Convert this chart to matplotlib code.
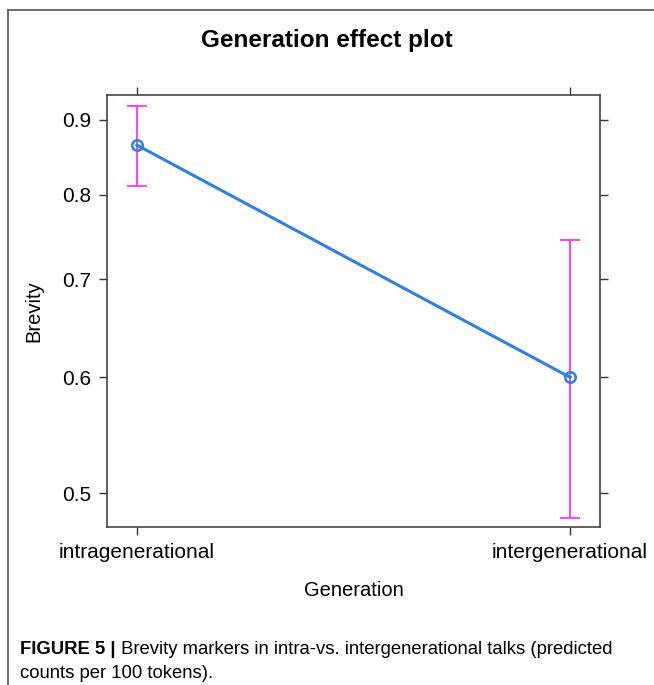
import matplotlib
matplotlib.use("Agg")
import matplotlib.pyplot as plt
from matplotlib.lines import Line2D
from matplotlib.ticker import FixedLocator, FixedFormatter, NullLocator

categories = ["intragenerational", "intergenerational"]
fit = [0.865, 0.600]
lower = [0.811, 0.481]
upper = [0.920, 0.745]
yticks = [0.5, 0.6, 0.7, 0.8, 0.9]
ytick_labels = ["0.5", "0.6", "0.7", "0.8", "0.9"]

plt.rcParams['font.family'] = ['Liberation Sans', 'DejaVu Sans']

fig = plt.figure(figsize=(6.54, 6.85), dpi=100)
W, H = 654, 685
ax = fig.add_axes([107 / W, 1 - 527 / H, (600 - 107) / W, (527 - 95) / H])

x = list(range(1, len(categories) + 1))
yerr = [[f - l for f, l in zip(fit, lower)], [u - f for f, u in zip(fit, upper)]]
ax.errorbar(x, fit, yerr=yerr, fmt='none', ecolor='#ff33ff', elinewidth=1.3,
            capsize=7.5, capthick=1.3, zorder=2)
ax.plot(x, fit, color='#2f7fe8', lw=2.2, marker='o', markersize=7.5,
        markerfacecolor='none', markeredgecolor='#2f7fe8', markeredgewidth=1.8, zorder=3)

ax.set_yscale('log')
ax.set_ylim(0.474, 0.936)
ax.set_xlim(0.931, 2.069)
ax.yaxis.set_major_locator(FixedLocator(yticks))
ax.yaxis.set_major_formatter(FixedFormatter(ytick_labels))
ax.yaxis.set_minor_locator(NullLocator())
ax.set_xticks(x)
ax.set_xticklabels(categories)

ax.tick_params(axis='both', which='major', direction='out', length=5.5, width=1.0,
               color='#333333', labelsize=15, top=True, right=True)
ax.tick_params(axis='y', pad=6)
ax.tick_params(axis='x', pad=6)
for s in ax.spines.values():
    s.set_color('#444444')
    s.set_linewidth(1.2)

ax.set_ylabel('Brevity', fontsize=14.5, labelpad=13)
ax.set_xlabel('Generation', fontsize=14.5, labelpad=14)
fig.text(0.5, 1 - 40 / H, 'Generation effect plot', ha='center', va='center',
         fontsize=17.5, fontweight='bold')

# figure frame
fig.add_artist(Line2D([8 / W, 8 / W], [0, 1 - 10 / H], transform=fig.transFigure,
                      color='#555555', lw=1.2))
fig.add_artist(Line2D([8 / W, 1], [1 - 10 / H, 1 - 10 / H], transform=fig.transFigure,
                      color='#555555', lw=1.2))

t1 = fig.text(20 / W, 1 - 650 / H, 'FIGURE 5 |', ha='left', va='center',
              fontsize=13.3, fontweight='bold')
ax.annotate(' Brevity markers in intra-vs. intergenerational talks (predicted',
            xy=(1, 0), xycoords=t1, va='bottom', ha='left', fontsize=13.3)
fig.text(20 / W, 1 - 674 / H, 'counts per 100 tokens).', ha='left', va='center',
         fontsize=13.3)

fig.savefig('out.png', dpi=100)
